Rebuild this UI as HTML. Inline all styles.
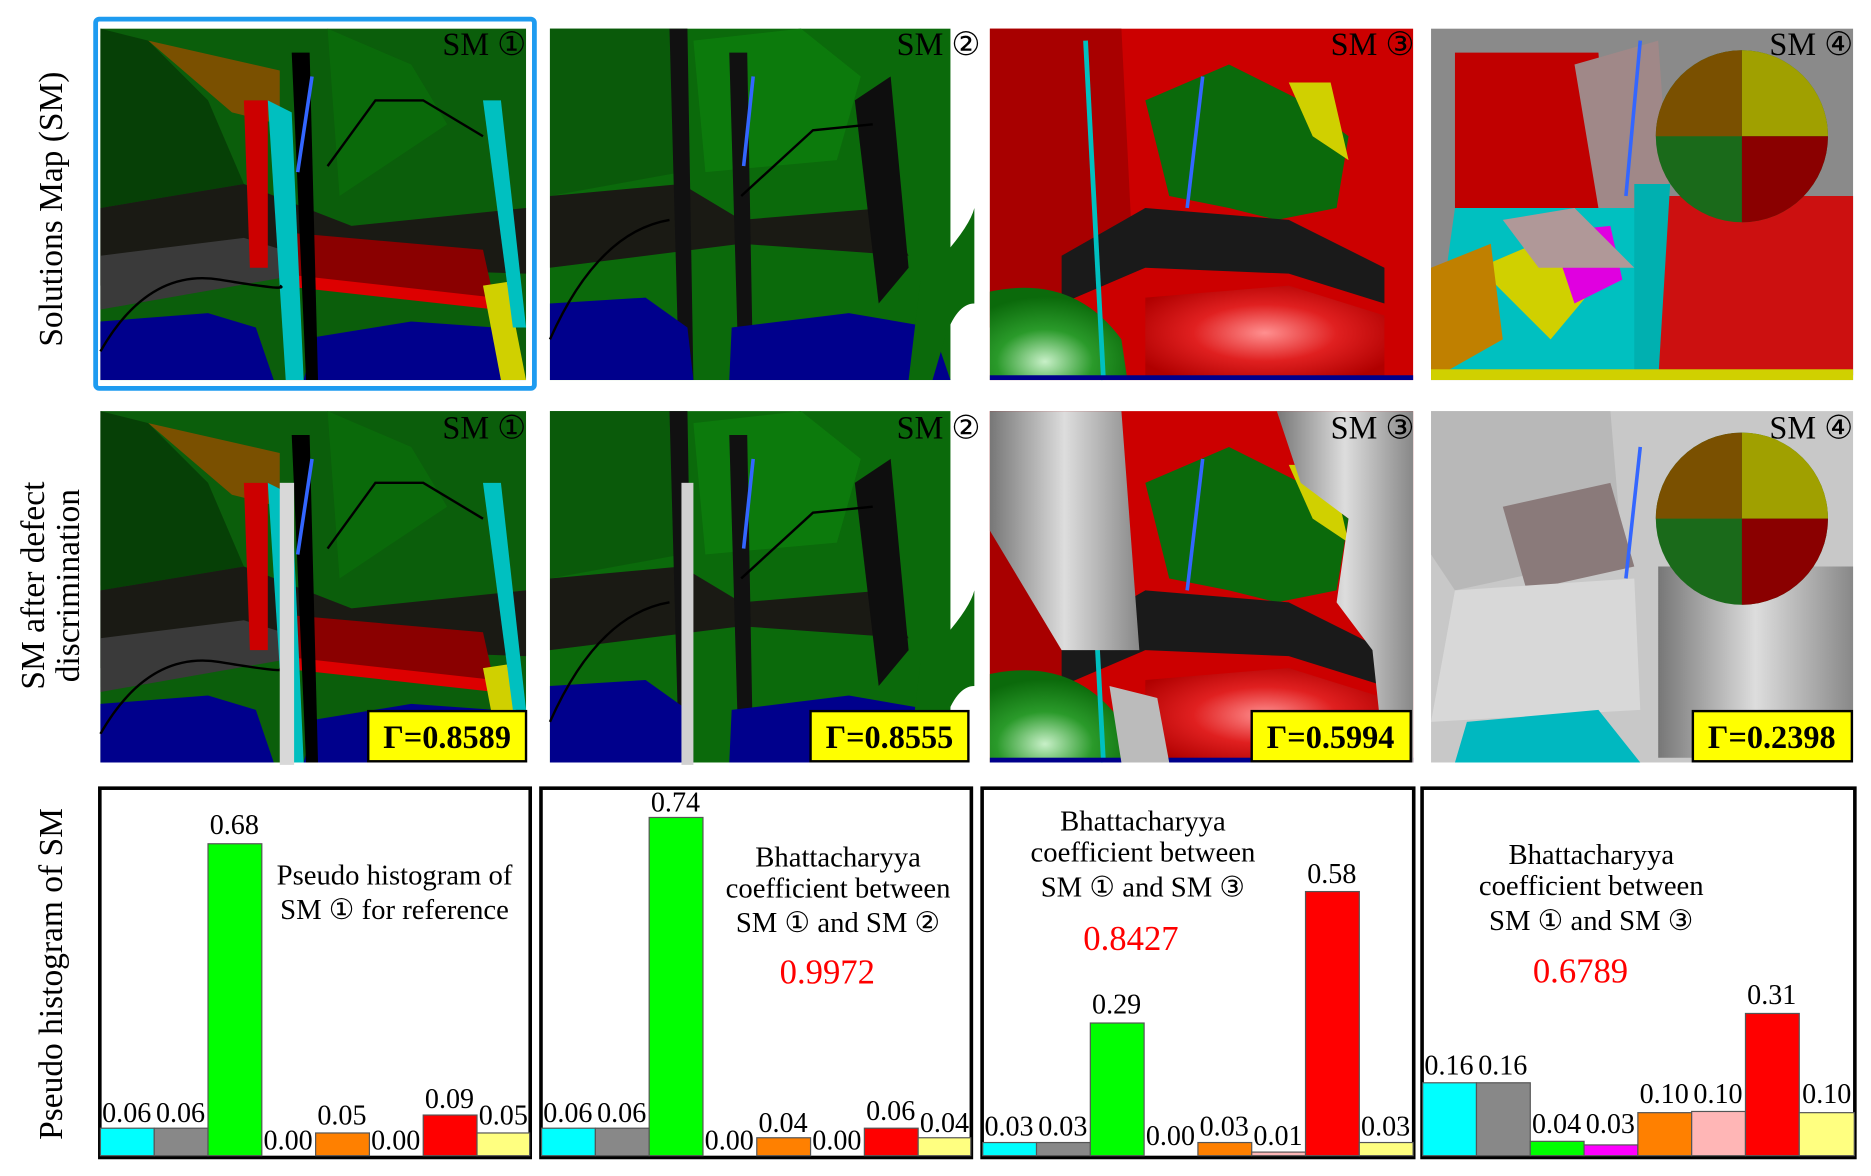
<!DOCTYPE html>
<html><head><meta charset="utf-8"><style>
html,body{margin:0;padding:0;background:#fff;}
svg{display:block;}
text{font-family:"Liberation Serif","DejaVu Serif",serif;}
</style></head><body>
<svg width="1871" height="1176" viewBox="0 0 1565 984" preserveAspectRatio="none" xmlns="http://www.w3.org/2000/svg">
<defs>
<radialGradient id="lg" cx="0.4" cy="0.8" r="0.7"><stop offset="0" stop-color="#c8f0c8"/><stop offset="0.5" stop-color="#2a9a2a"/><stop offset="1" stop-color="#0b6a0b"/></radialGradient>
<radialGradient id="rg" cx="0.5" cy="0.5" r="0.6"><stop offset="0" stop-color="#ff9090"/><stop offset="0.5" stop-color="#e02020"/><stop offset="1" stop-color="#b00000"/></radialGradient>
<linearGradient id="gr" x1="0" x2="1"><stop offset="0" stop-color="#777"/><stop offset="0.5" stop-color="#ddd"/><stop offset="1" stop-color="#888"/></linearGradient>
<g id="pA">
<rect x="0" y="0" width="356" height="294" fill="#0b5e0b"/>
<polygon points="0,0 40,10 90,60 120,130 0,150" fill="#064006"/>
<polygon points="40,10 150,35 150,80 110,70" fill="#7a5000"/>
<polygon points="190,0 260,30 290,80 200,140" fill="#0a6a0a"/>
<polygon points="0,150 120,130 210,165 356,150 356,205 210,200 0,215" fill="#1a1a14"/>
<polygon points="0,190 120,175 200,200 0,235" fill="#3a3a3a"/>
<polygon points="150,170 320,185 330,230 150,210" fill="#8a0000"/>
<polygon points="150,205 330,225 330,235 150,215" fill="#dd0000"/>
<polygon points="0,294 0,245 90,238 130,250 145,294" fill="#00008c"/>
<polygon points="170,294 180,258 260,245 330,250 345,294" fill="#00008c"/>
<polygon points="120,60 140,60 140,200 125,200" fill="#cc0000"/>
<polygon points="140,60 160,70 170,294 155,294" fill="#00bfbf"/>
<polygon points="160,20 175,20 182,294 172,294" fill="#000"/>
<polygon points="320,215 340,212 356,294 335,294" fill="#d0d000"/>
<polygon points="320,60 335,60 356,250 345,250" fill="#00c0c0"/>
<line x1="177" y1="40" x2="165" y2="120" stroke="#3366ff" stroke-width="3"/>
<path d="M0,270 Q40,200 100,210 T150,215" stroke="#000" stroke-width="2" fill="none"/>
<path d="M190,115 L230,60 L270,60 L320,90" stroke="#000" stroke-width="2" fill="none"/>
</g>
<g id="pB">
<rect x="0" y="0" width="335" height="294" fill="#0b6a0b"/>
<polygon points="0,0 100,0 110,120 0,140" fill="#0a5a0a"/>
<polygon points="120,10 210,0 260,40 240,110 130,120" fill="#0c7a0c"/>
<polygon points="0,140 110,130 160,160 280,150 300,190 160,180 0,200" fill="#1a1a14"/>
<polygon points="100,0 115,0 120,294 108,294" fill="#111"/>
<polygon points="150,20 165,20 170,294 158,294" fill="#111"/>
<polygon points="255,60 285,40 300,200 275,230" fill="#0e0e0e"/>
<polygon points="0,294 0,230 80,225 115,250 120,294" fill="#00008c"/>
<polygon points="150,294 152,250 250,238 320,250 335,294" fill="#00008c"/>
<line x1="170" y1="40" x2="162" y2="115" stroke="#3366ff" stroke-width="3"/>
<path d="M0,260 Q40,170 100,160" stroke="#000" stroke-width="2" fill="none"/>
<path d="M160,140 L220,85 L270,80" stroke="#000" stroke-width="2" fill="none"/>
<path d="M310,210 Q350,170 355,150 L355,230 Q340,230 330,260 L320,294 L300,294 Z" fill="#0b6a0b"/>
</g>
<g id="pC">
<rect x="0" y="0" width="354" height="294" fill="#cc0000"/>
<polygon points="0,0 110,0 120,200 0,250" fill="#a80000"/>
<polygon points="130,60 200,30 260,60 300,90 290,150 240,160 200,150 150,140" fill="#0b6a0b"/>
<polygon points="250,45 285,45 300,110 270,90" fill="#d0d000"/>
<polygon points="60,190 130,150 250,160 330,200 330,230 250,205 130,200 60,230" fill="#1a1a1a"/>
<polygon points="130,225 250,215 330,240 330,294 130,294" fill="url(#rg)"/>
<path d="M0,294 L0,220 Q70,205 110,260 L115,294 Z" fill="url(#lg)"/>
<line x1="80" y1="10" x2="95" y2="294" stroke="#00c0c0" stroke-width="4"/>
<line x1="178" y1="40" x2="165" y2="150" stroke="#3366ff" stroke-width="3"/>
<rect x="0" y="290" width="354" height="4" fill="#00008c"/>
</g>
<g id="pD">
<rect x="0" y="0" width="353" height="294" fill="#8a8a8a"/>
<polygon points="20,20 140,20 150,150 20,150" fill="#c00000"/>
<polygon points="120,30 190,10 200,150 140,150" fill="#a08888"/>
<polygon points="20,150 170,150 175,294 0,294" fill="#00c0c0"/>
<polygon points="40,200 110,170 150,200 100,260" fill="#d0d000"/>
<polygon points="100,170 150,165 160,210 120,230" fill="#e000e0"/>
<polygon points="0,200 50,180 60,260 0,294" fill="#c08000"/>
<polygon points="60,160 120,150 170,200 90,200" fill="#b09898"/>
<polygon points="190,140 353,140 353,290 190,290" fill="#cc1010"/>
<polygon points="170,130 200,130 190,294 170,294" fill="#00b0b0"/>
<circle cx="260" cy="90" r="72" fill="#1a6a1a"/>
<path d="M260,18 A72,72 0 0 1 332,90 L260,90 Z" fill="#a0a000"/>
<path d="M332,90 A72,72 0 0 1 260,162 L260,90 Z" fill="#8a0000"/>
<path d="M260,18 A72,72 0 0 0 188,90 L260,90 Z" fill="#7a5000"/>
<rect x="0" y="285" width="353" height="9" fill="#d0d000"/>
<line x1="175" y1="10" x2="163" y2="140" stroke="#3366ff" stroke-width="3"/>
</g>
</defs>

<text transform="translate(52,175) rotate(-90)" text-anchor="middle" font-size="28">Solutions Map (SM)</text>
<text transform="translate(37,490) rotate(-90)" text-anchor="middle" font-size="28">SM after defect</text>
<text transform="translate(66,490) rotate(-90)" text-anchor="middle" font-size="28">discrimination</text>
<text transform="translate(52,815) rotate(-90)" text-anchor="middle" font-size="28">Pseudo histogram of SM</text>

<use href="#pA" x="84" y="24"/>
<rect x="80" y="16" width="367" height="309" fill="none" stroke="#1e9bf0" stroke-width="4" rx="3"/>
<use href="#pB" x="460" y="24"/>
<use href="#pC" x="828" y="24"/>
<use href="#pD" x="1197" y="24"/>

<use href="#pA" x="84" y="344"/>
<rect x="234" y="404" width="12" height="236" fill="#d8d8d8"/>
<use href="#pB" x="460" y="344"/>
<rect x="570" y="404" width="10" height="236" fill="#d0d0d0"/>
<g transform="translate(828,344)">
<use href="#pC"/>
<polygon points="0,0 110,0 125,200 60,200 0,100" fill="url(#gr)"/>
<polygon points="240,0 354,0 354,294 330,294 320,200 290,160 300,90 260,60" fill="url(#gr)"/>
<polygon points="100,230 140,240 150,294 110,294" fill="#bbb"/>
</g>
<g transform="translate(1197,344)">
<rect x="0" y="0" width="353" height="294" fill="#c8c8c8"/>
<polygon points="0,0 150,0 160,120 20,150 0,120" fill="#b8b8b8"/>
<polygon points="60,80 150,60 170,130 80,150" fill="#8a7a7a"/>
<polygon points="20,150 170,140 175,250 0,260" fill="#d8d8d8"/>
<polygon points="190,130 353,130 353,290 190,290" fill="url(#gr)"/>
<polygon points="30,260 140,250 175,294 20,294" fill="#00b8c0"/>
<circle cx="260" cy="90" r="72" fill="#1a6a1a"/>
<path d="M260,18 A72,72 0 0 1 332,90 L260,90 Z" fill="#a0a000"/>
<path d="M332,90 A72,72 0 0 1 260,162 L260,90 Z" fill="#8a0000"/>
<path d="M260,18 A72,72 0 0 0 188,90 L260,90 Z" fill="#7a5000"/>
<line x1="175" y1="30" x2="163" y2="140" stroke="#3366ff" stroke-width="3"/>
</g>

<g font-size="27">
<text x="440" y="46" text-anchor="end">SM ①</text>
<text x="820" y="46" text-anchor="end">SM ②</text>
<text x="1183" y="46" text-anchor="end">SM ③</text>
<text x="1550" y="46" text-anchor="end">SM ④</text>
<text x="440" y="367" text-anchor="end">SM ①</text>
<text x="820" y="367" text-anchor="end">SM ②</text>
<text x="1183" y="367" text-anchor="end">SM ③</text>
<text x="1550" y="367" text-anchor="end">SM ④</text>
</g>

<g font-size="27" font-weight="bold" text-anchor="middle">
<rect x="308" y="595" width="132" height="42" fill="#ffff00" stroke="#000" stroke-width="2"/>
<text x="374" y="626">Γ=0.8589</text>
<rect x="678" y="595" width="132" height="42" fill="#ffff00" stroke="#000" stroke-width="2"/>
<text x="744" y="626">Γ=0.8555</text>
<rect x="1047" y="595" width="133" height="42" fill="#ffff00" stroke="#000" stroke-width="2"/>
<text x="1113" y="626">Γ=0.5994</text>
<rect x="1416" y="595" width="133" height="42" fill="#ffff00" stroke="#000" stroke-width="2"/>
<text x="1482" y="626">Γ=0.2398</text>
</g>

<g font-size="23.5" text-anchor="middle">
<g>
<rect x="83.5" y="659.5" width="360" height="309" fill="#fff" stroke="#000" stroke-width="3"/>
<rect x="84" y="944" width="45" height="23" fill="#00ffff" stroke="#555"/>
<rect x="129" y="944" width="45" height="23" fill="#888" stroke="#555"/>
<rect x="174" y="706" width="45" height="261" fill="#00ff00" stroke="#555"/>
<rect x="264" y="948" width="45" height="19" fill="#ff8000" stroke="#555"/>
<rect x="354" y="933" width="45" height="34" fill="#ff0000" stroke="#555"/>
<rect x="399" y="948" width="44" height="19" fill="#ffff80" stroke="#555"/>
<text x="106" y="939">0.06</text><text x="151" y="939">0.06</text><text x="196" y="698">0.68</text>
<text x="241" y="962">0.00</text><text x="286" y="941">0.05</text><text x="331" y="962">0.00</text>
<text x="376" y="927">0.09</text><text x="421" y="941">0.05</text>
<text x="330" y="740" font-size="24">Pseudo histogram of</text>
<text x="330" y="769" font-size="24">SM ① for reference</text>
</g>
<g>
<rect x="452.5" y="659.5" width="360" height="309" fill="#fff" stroke="#000" stroke-width="3"/>
<rect x="453" y="944" width="45" height="23" fill="#00ffff" stroke="#555"/>
<rect x="498" y="944" width="45" height="23" fill="#888" stroke="#555"/>
<rect x="543" y="684" width="45" height="283" fill="#00ff00" stroke="#555"/>
<rect x="633" y="952" width="45" height="15" fill="#ff8000" stroke="#555"/>
<rect x="723" y="944" width="45" height="23" fill="#ff0000" stroke="#555"/>
<rect x="768" y="952" width="44" height="15" fill="#ffff80" stroke="#555"/>
<text x="475" y="939">0.06</text><text x="520" y="939">0.06</text><text x="565" y="679">0.74</text>
<text x="610" y="962">0.00</text><text x="655" y="947">0.04</text><text x="700" y="962">0.00</text>
<text x="745" y="937">0.06</text><text x="790" y="947">0.04</text>
<text x="701" y="725" font-size="24">Bhattacharyya</text>
<text x="701" y="751" font-size="24">coefficient between</text>
<text x="701" y="780" font-size="24">SM ① and SM ②</text>
<text x="692" y="823" font-size="29" fill="#ff0000">0.9972</text>
</g>
<g>
<rect x="821.5" y="659.5" width="361" height="309" fill="#fff" stroke="#000" stroke-width="3"/>
<rect x="822" y="956" width="45" height="11" fill="#00ffff" stroke="#555"/>
<rect x="867" y="956" width="45" height="11" fill="#888" stroke="#555"/>
<rect x="912" y="856" width="45" height="111" fill="#00ff00" stroke="#555"/>
<rect x="1002" y="956" width="45" height="11" fill="#ff8000" stroke="#555"/>
<rect x="1047" y="964" width="45" height="3" fill="#ffb6b6" stroke="#555"/>
<rect x="1092" y="746" width="45" height="221" fill="#ff0000" stroke="#555"/>
<rect x="1137" y="956" width="45" height="11" fill="#ffff80" stroke="#555"/>
<text x="844" y="950">0.03</text><text x="889" y="950">0.03</text><text x="934" y="848">0.29</text>
<text x="979" y="958">0.00</text><text x="1024" y="950">0.03</text><text x="1069" y="958">0.01</text>
<text x="1114" y="739">0.58</text><text x="1159" y="950">0.03</text>
<text x="956" y="695" font-size="24">Bhattacharyya</text>
<text x="956" y="721" font-size="24">coefficient between</text>
<text x="956" y="750" font-size="24">SM ① and SM ③</text>
<text x="946" y="795" font-size="29" fill="#ff0000">0.8427</text>
</g>
<g>
<rect x="1189.5" y="659.5" width="362" height="309" fill="#fff" stroke="#000" stroke-width="3"/>
<rect x="1190" y="906" width="45" height="61" fill="#00ffff" stroke="#555"/>
<rect x="1235" y="906" width="45" height="61" fill="#888" stroke="#555"/>
<rect x="1280" y="955" width="45" height="12" fill="#00ff00" stroke="#555"/>
<rect x="1325" y="958" width="45" height="9" fill="#ff00ff" stroke="#555"/>
<rect x="1370" y="931" width="45" height="36" fill="#ff8000" stroke="#555"/>
<rect x="1415" y="930" width="45" height="37" fill="#ffb6b6" stroke="#555"/>
<rect x="1460" y="848" width="45" height="119" fill="#ff0000" stroke="#555"/>
<rect x="1505" y="931" width="46" height="36" fill="#ffff80" stroke="#555"/>
<text x="1212" y="899">0.16</text><text x="1257" y="899">0.16</text><text x="1302" y="948">0.04</text>
<text x="1347" y="948">0.03</text><text x="1392" y="923">0.10</text><text x="1437" y="923">0.10</text>
<text x="1482" y="840">0.31</text><text x="1528" y="923">0.10</text>
<text x="1331" y="723" font-size="24">Bhattacharyya</text>
<text x="1331" y="749" font-size="24">coefficient between</text>
<text x="1331" y="778" font-size="24">SM ① and SM ③</text>
<text x="1322" y="822" font-size="29" fill="#ff0000">0.6789</text>
</g>
</g>
</svg>
</body></html>
